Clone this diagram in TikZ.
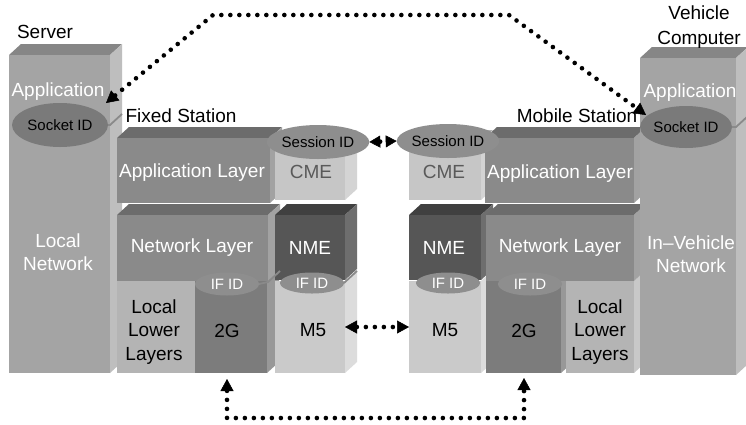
\documentclass[tikz,border=0pt]{standalone}
\usepackage{fontspec}
\setmainfont{Liberation Sans}
\usetikzlibrary{arrows.meta,shapes.geometric,calc,fit}
\definecolor{srvF}{HTML}{A4A4A4}
\definecolor{srvT}{HTML}{868686}
\definecolor{srvS}{HTML}{BEBEBE}
\definecolor{layF}{HTML}{8A8A8A}
\definecolor{layT}{HTML}{6C6C6C}
\definecolor{layS}{HTML}{A2A2A2}
\definecolor{cmeF}{HTML}{C6C6C6}
\definecolor{cmeT}{HTML}{B2B2B2}
\definecolor{cmeS}{HTML}{D4D4D4}
\definecolor{nmeF}{HTML}{565656}
\definecolor{nmeT}{HTML}{404040}
\definecolor{nmeS}{HTML}{6E6E6E}
\definecolor{m5F}{HTML}{CACACA}
\definecolor{m5S}{HTML}{DCDCDC}
\definecolor{gF}{HTML}{7C7C7C}
\definecolor{gS}{HTML}{989898}
\definecolor{lllF}{HTML}{B4B4B4}
\definecolor{lllS}{HTML}{C8C8C8}
\definecolor{ellA}{HTML}{7A7A7A}
\definecolor{ellB}{HTML}{8E8E8E}
\definecolor{cmeTxt}{HTML}{5A5A5A}
\definecolor{edgeC}{HTML}{8A8A8A}
\newcommand{\dpx}{12}
\newcommand{\dpy}{11}
% name, x1, y1, x2, y2, front, top, side
\newcommand{\blk}[8]{%
  \fill[fill=#7] (#2,#3) -- ({#2+\dpx},{#3-\dpy}) -- ({#4+\dpx},{#3-\dpy}) -- (#4,#3) -- cycle;
  \fill[fill=#8] (#4,#3) -- ({#4+\dpx},{#3-\dpy}) -- ({#4+\dpx},{#5-\dpy}) -- (#4,#5) -- cycle;
  \node[face, fill=#6, fit={(#2,#3) (#4,#5)}] (#1) {};
}
\tikzset{
  face/.style={inner sep=0pt, outer sep=0pt, draw=none},
  big/.style={font=\fontsize{19}{23.5}\selectfont, inner sep=0pt, align=center},
  wl/.style={big, text=white},
  bl/.style={big, text=black},
  ell/.style={ellipse, inner sep=0pt, outer sep=0pt, draw=none, font=\fontsize{15}{17}\selectfont},
  dotline/.style={line width=4.6pt, line cap=round, dash pattern=on 0pt off 9pt, black},
  >={Triangle[length=12pt,width=13pt,line width=0.5pt]},
  shortarrow/.style={dash pattern=on 0pt off 9pt,
    {Triangle[length=11pt,width=12pt,line width=0.5pt]}-{Triangle[length=11pt,width=12pt,line width=0.5pt]}},
  edgeline/.style={draw=edgeC, line width=1.8pt}
}
\begin{document}
\begin{tikzpicture}[x=1pt,y=-1pt]
\useasboundingbox (0,0) rectangle (746,424);
\fill[white] (0,0) rectangle (746,424);

% Server
\blk{srv}{9}{55}{110}{373}{srvF}{srvT}{srvS}

% Fixed station: bottom row, middle row, top row
\blk{lllL}{117}{281}{195}{373}{lllF}{none}{none}
\blk{gL}{195}{281}{267}{373}{gF}{none}{gS}
\blk{m5L}{275}{281}{345}{373}{m5F}{none}{m5S}
\blk{netL}{117}{215}{268}{281}{layF}{layT}{layS}
\blk{nmeL}{275}{215}{345}{280}{nmeF}{nmeT}{nmeS}
\blk{appL}{117}{138}{270}{203}{layF}{layT}{layS}
\blk{cmeL}{275}{141}{345}{200}{cmeF}{cmeT}{cmeS}

% Mobile station
\blk{m5R}{409}{281}{481}{373}{m5F}{none}{m5S}
\blk{gR}{486}{281}{561}{373}{gF}{none}{gS}
\blk{lllR}{566}{281}{634}{373}{lllF}{none}{lllS}
\blk{nmeR}{409}{215}{481}{280}{nmeF}{nmeT}{nmeS}
\blk{netR}{486}{215}{634}{281}{layF}{layT}{layS}
\blk{cmeR}{409}{141}{481}{200}{cmeF}{cmeT}{cmeS}
\blk{appR}{485}{138}{634}{203}{layF}{layT}{layS}

% Vehicle computer
\blk{veh}{640}{58}{736}{375}{srvF}{srvT}{srvS}

% ellipses
\node[ell, fill=ellA, minimum width=96pt, minimum height=44pt] (sockL) at (60,125) {Socket ID};
\node[ell, fill=ellA, minimum width=88pt, minimum height=42pt] (sockR) at (686,127) {Socket ID};
\node[ell, fill=ellB, minimum width=86pt, minimum height=34pt] (sessL) at (318,142) {Session ID};
\node[ell, fill=ellB, minimum width=86pt, minimum height=34pt] (sessR) at (448,141) {Session ID};
\node[ell, fill=ellB, text=white, minimum width=64pt, minimum height=23pt] (ifL) at (227,284) {IF ID};
\node[ell, fill=ellB, text=white, minimum width=64pt, minimum height=21pt] (ifmL) at (312,283) {IF ID};
\node[ell, fill=ellB, text=white, minimum width=64pt, minimum height=21pt] (ifmR) at (448,283) {IF ID};
\node[ell, fill=ellB, text=white, minimum width=64pt, minimum height=23pt] (ifR) at (530,284) {IF ID};

% boundary edges
\draw[edgeline] (sockL.east) -- (110,125) -- (122,114);
\draw[edgeline] (sockR.east) -- (736,127) -- (748,116);
\draw[edgeline] (ifL.east) -- (268,282) -- (280,271);
\draw[edgeline] (ifmL.east) -- (345,282) -- (357,271);

% labels
\node[bl] (tServer) at (45,32) {Server};
\node[bl, font=\fontsize{19}{24.5}\selectfont] (tVeh) at (699,27) {Vehicle\\Computer};
\node[bl] (tFixed) at (181,116) {Fixed Station};
\node[bl] (tMobile) at (577,116) {Mobile Station};
\node[wl] (tAppS) at (58,92) {Application};
\node[wl] (tLocal) at (58,252) {Local\\Network};
\node[wl] (tAppV) at (690,93) {Application};
\node[wl] (tInV) at (691,254) {In–Vehicle\\Network};
\node[wl] (tAppL) at (192,173) {Application Layer};
\node[wl] (tAppR) at (560,174) {Application Layer};
\node[big, text=cmeTxt] (tCmeL) at (311,172) {CME};
\node[big, text=cmeTxt] (tCmeR) at (444,172) {CME};
\node[wl] (tNetL) at (192,248) {Network Layer};
\node[wl] (tNetR) at (560,248) {Network Layer};
\node[wl] (tNmeL) at (310,248) {NME};
\node[wl] (tNmeR) at (444,248) {NME};
\node[bl] (tLllL) at (154,332) {Local\\Lower\\Layers};
\node[bl] (tLllR) at (600,332) {Local\\Lower\\Layers};
\node[bl] (t2gL) at (227,331) {2G};
\node[bl] (t2gR) at (524,331) {2G};
\node[bl] (tM5L) at (313,330) {M5};
\node[bl] (tM5R) at (445,330) {M5};

% connectors
\coordinate (tipL) at (106,103);
\coordinate (tl) at (213,15);
\coordinate (tr) at (509,15);
\coordinate (tipR) at (646,115);
\coordinate (botrow) at (0,418);
\draw[dotline, <->] (tipL) -- (tl) -- (tr) -- (tipR);
\draw[dotline, shortarrow] (sessL.east) -- (sessR.west);
\draw[dotline, <->] (m5L.east) -- (m5R.west);
\draw[dotline, <->] ($(ifL |- gL.south)+(0,6)$) -- (ifL |- botrow) -- (t2gR |- botrow) -- ($(t2gR |- gR.south)+(0,5)$);
\end{tikzpicture}
\end{document}
